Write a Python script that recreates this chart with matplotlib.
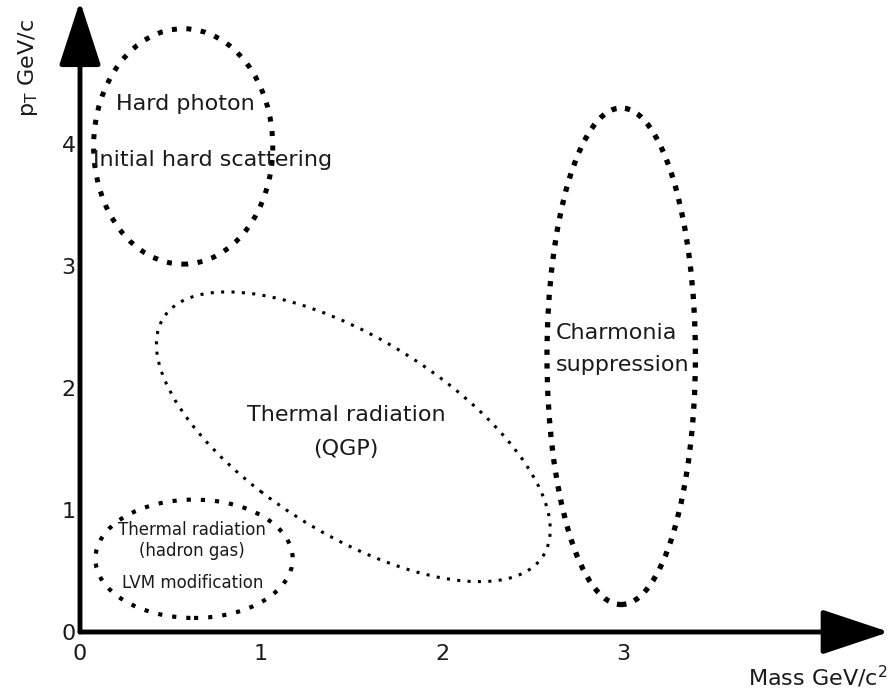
import matplotlib.pyplot as plt
from matplotlib.patches import Ellipse

# axis ticks
x_ticks = [0, 1, 2, 3]
y_ticks = [0, 1, 2, 3, 4]

# regions: centre (mass, pT), width, height, angle, dot style
region_names = ['hard', 'charmonia', 'hadron', 'qgp']
region_centers = [(0.57, 3.98), (2.99, 2.26), (0.63, 0.60), (1.51, 1.60)]
region_widths = [0.99, 0.82, 1.09, 2.92]
region_heights = [1.93, 4.07, 0.97, 1.36]
region_angles = [0, 0, 0, -48.9]
region_lw = [3.6, 3.8, 3.0, 2.2]
region_gap = [1.9, 1.6, 2.4, 2.4]

# labels: text, position, alignment, size
label_texts = ['Hard photon', 'Initial hard scattering',
               'Charmonia', 'suppression',
               'Thermal radiation', '(QGP)',
               'Thermal radiation', '(hadron gas)', 'LVM modification']
label_pos = [(0.58, 4.33), (0.07, 3.87),
             (2.63, 2.45), (2.63, 2.19),
             (1.47, 1.78), (1.47, 1.50),
             (0.62, 0.84), (0.62, 0.66), (0.62, 0.40)]
label_ha = ['center', 'left', 'left', 'left', 'center', 'center',
            'center', 'center', 'center']
label_size = [16, 16, 16, 16, 16, 16, 12, 12, 12]

fig = plt.figure(figsize=(8.9, 6.93), dpi=100)
ax = fig.add_axes([0, 0, 1, 1])
ax.set_xlim(-0.442, 4.475)
ax.set_ylim(-0.50, 5.18)

for s in ax.spines.values():
    s.set_visible(False)
ax.spines['left'].set_position(('data', 0))
ax.spines['bottom'].set_position(('data', 0))
ax.set_xticks(x_ticks)
ax.set_yticks(y_ticks)
ax.tick_params(length=0, labelsize=16, colors='#1a1a1a')
ax.tick_params(axis='x', pad=9)
ax.tick_params(axis='y', pad=3)

# axes arrows
ax.annotate('', xy=(0, 5.17), xytext=(0, 0),
            arrowprops=dict(arrowstyle='-|>,head_length=40,head_width=13',
                            mutation_scale=1, lw=3.5, color='black',
                            shrinkA=0, shrinkB=0))
ax.annotate('', xy=(4.47, 0), xytext=(0, 0),
            arrowprops=dict(arrowstyle='-|>,head_length=42,head_width=14',
                            mutation_scale=1, lw=3.5, color='black',
                            shrinkA=0, shrinkB=0))

for c, w, h, a, lw, g in zip(region_centers, region_widths, region_heights,
                             region_angles, region_lw, region_gap):
    ax.add_patch(Ellipse(c, w, h, angle=a, fill=False, edgecolor='black',
                         lw=lw, linestyle=(0, (1, g))))

for t, p, ha, sz in zip(label_texts, label_pos, label_ha, label_size):
    ax.text(p[0], p[1], t, ha=ha, va='center', fontsize=sz, color='#1a1a1a')

ax.text(-0.29, 4.62, r'p$_\mathrm{T}$ GeV/c', rotation=90, ha='center',
        va='center', fontsize=16, color='#1a1a1a')
ax.text(4.46, -0.37, r'Mass GeV/c$^2$', ha='right', va='center',
        fontsize=16, color='#1a1a1a')

fig.savefig('out.png', dpi=100)
